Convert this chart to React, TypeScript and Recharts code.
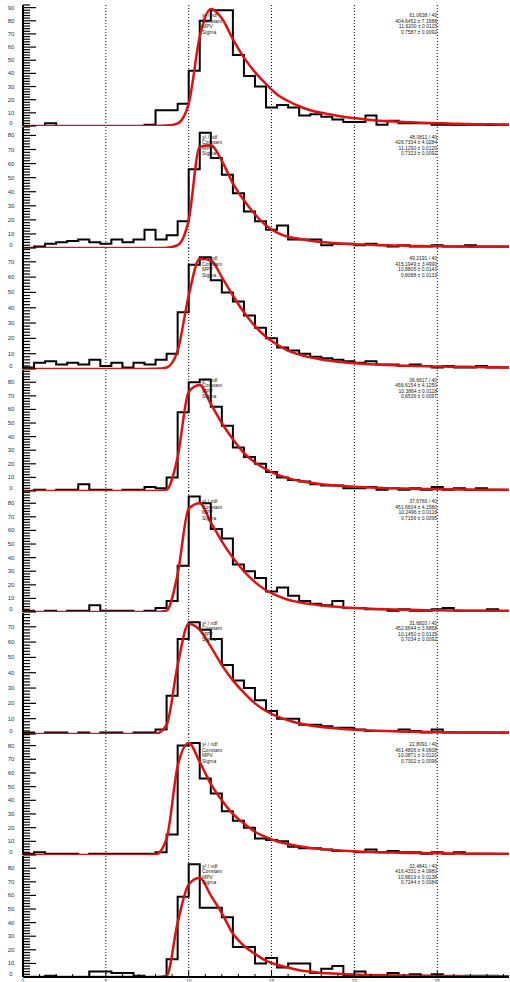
import React from "react";
import { ComposedChart, Line, XAxis, YAxis, ReferenceLine } from "recharts";

// bins of 2/3 unit, axis cut at 29.33
const binWidth = 2 / 3;
const xMax = 29.33;
const binEdges = Array.from({ length: 45 }, (_, i) => +(i * binWidth).toFixed(4));
const gridX = [5, 10, 15, 20, 25];
const xLabels = [0, 5, 10, 15, 20, 25];
const xTicks = Array.from({ length: 30 }, (_, i) => i);

const histP1 = [0, 0, 2, 0, 0, 0, 0, 0, 0, 0, 0, 1, 12, 12, 17, 42, 80, 88, 88, 54, 38, 30, 14, 16, 14, 8, 9, 7, 5, 3, 3, 8, 1, 4, 2, 2, 2, 1, 1, 0, 1, 1, 0, 1];
const fitP1 = [0, 0, 0, 0, 0, 0, 0, 0, 0, 0, 0, 0, 0, 0.3, 2, 17, 68, 89, 82, 66, 52, 41, 32, 24, 19, 15, 12, 10, 8.5, 7, 6, 5, 4.2, 3.7, 3.2, 2.8, 2.5, 2.2, 2, 1.8, 1.6, 1.4, 1.3, 1.2, 1.1];

const histP2 = [0, 1, 3, 4, 5, 6, 4, 3, 6, 4, 6, 13, 6, 9, 19, 56, 82, 64, 52, 39, 26, 19, 13, 16, 6, 6, 6, 2, 3, 3, 2, 3, 2, 1, 2, 1, 1, 2, 1, 1, 2, 1, 1, 1];
const fitP2 = [0, 0, 0, 0, 0, 0, 0, 0, 0, 0, 0, 0, 0, 0.2, 2, 20, 72, 73, 62, 46, 34, 24, 16, 11, 8, 6.5, 5.2, 4.2, 3.6, 3.1, 2.7, 2.4, 2.1, 1.9, 1.7, 1.5, 1.4, 1.3, 1.2, 1.1, 1, 0.9, 0.9, 0.8, 0.8];

const histP3 = [1, 4, 5, 3, 4, 3, 6, 2, 4, 1, 4, 3, 6, 10, 37, 68, 73, 58, 50, 44, 35, 27, 20, 14, 12, 10, 8, 7, 6, 5, 4, 5, 3, 3, 2, 3, 2, 1, 2, 1, 1, 2, 1, 1];
const fitP3 = [0, 0, 0, 0, 0, 0, 0, 0, 0, 0, 0, 0, 0.1, 1, 12, 48, 72, 71, 60, 48, 37, 28, 21, 16, 12, 9.5, 7.6, 6.2, 5.2, 4.4, 3.8, 3.3, 2.9, 2.6, 2.3, 2.1, 1.9, 1.7, 1.6, 1.5, 1.4, 1.3, 1.2, 1.1, 1];

const histP4 = [0, 1, 0, 1, 1, 5, 1, 1, 0, 1, 1, 3, 2, 10, 58, 80, 82, 62, 48, 32, 25, 20, 14, 10, 8, 7, 5, 4, 4, 2, 2, 3, 1, 2, 1, 2, 1, 3, 1, 2, 1, 2, 1, 1];
const fitP4 = [0, 0, 0, 0, 0, 0, 0, 0, 0, 0, 0, 0, 0, 1, 25, 73, 78, 64, 50, 38, 28, 21, 16, 12, 9.5, 7.5, 6, 5, 4.2, 3.6, 3.1, 2.7, 2.4, 2.1, 1.9, 1.7, 1.5, 1.4, 1.3, 1.2, 1.1, 1, 0.9, 0.9, 0.8];

const histP5 = [1, 0, 1, 0, 1, 1, 5, 1, 1, 1, 0, 1, 3, 8, 34, 85, 80, 61, 54, 35, 30, 25, 15, 18, 12, 8, 6, 5, 8, 3, 3, 2, 2, 1, 2, 1, 1, 2, 3, 1, 1, 1, 2, 1];
const fitP5 = [0, 0, 0, 0, 0, 0, 0, 0, 0, 0, 0, 0, 0, 1, 28, 76, 80, 66, 52, 40, 30, 22, 16, 12, 9, 7.2, 5.8, 4.8, 4, 3.4, 2.9, 2.5, 2.2, 2, 1.8, 1.6, 1.4, 1.3, 1.2, 1.1, 1, 0.9, 0.9, 0.8, 0.8];

const histP6 = [1, 0, 1, 1, 0, 1, 0, 1, 1, 0, 1, 1, 3, 25, 62, 73, 68, 62, 45, 35, 30, 22, 15, 10, 10, 6, 6, 5, 4, 4, 3, 2, 2, 2, 3, 2, 1, 3, 1, 1, 1, 1, 1, 1];
const fitP6 = [0, 0, 0, 0, 0, 0, 0, 0, 0, 0, 0, 0, 0.2, 6, 45, 72, 68, 57, 45, 35, 27, 20, 15, 11.5, 9, 7, 5.6, 4.6, 3.9, 3.3, 2.8, 2.4, 2.1, 1.9, 1.7, 1.5, 1.4, 1.3, 1.2, 1.1, 1, 0.9, 0.9, 0.8, 0.8];

const histP7 = [1, 2, 1, 1, 1, 0, 1, 1, 1, 1, 1, 1, 2, 15, 80, 82, 56, 45, 32, 25, 20, 12, 11, 10, 6, 5, 5, 4, 3, 3, 2, 4, 2, 3, 2, 2, 1, 2, 1, 2, 1, 1, 1, 1];
const fitP7 = [0, 0, 0, 0, 0, 0, 0, 0, 0, 0, 0, 0, 0.3, 12, 65, 82, 68, 52, 40, 30, 23, 17, 13, 10, 8, 6.4, 5.2, 4.3, 3.6, 3.1, 2.7, 2.3, 2.1, 1.9, 1.7, 1.5, 1.4, 1.3, 1.2, 1.1, 1, 0.9, 0.9, 0.8, 0.8];

const histP8 = [0, 0, 1, 0, 0, 0, 4, 4, 3, 3, 1, 0, 0, 13, 59, 83, 51, 51, 44, 22, 22, 10, 14, 7, 10, 10, 3, 6, 8, 1, 4, 0, 1, 3, 1, 2, 1, 2, 0, 0, 1, 1, 1, 0];
const fitP8 = [0, 0, 0, 0, 0, 0, 0, 0, 0, 0, 0, 0, 0, 1, 40, 68, 73, 60, 47, 32, 23, 17, 12, 9, 7, 5, 4, 3, 2.6, 2.2, 1.8, 1.5, 1.3, 1.2, 1.1, 1, 0.9, 0.8, 0.7, 0.7, 0.6, 0.6, 0.5, 0.5, 0.5];

const yMaxes = [92, 86, 79, 89, 89, 79, 88.5, 89];

const statNames = ["χ² / ndf", "Constant", "MPV", "Sigma"];
const statsP1 = ["61.0638 / 40", "404.6452 ± 7.1688", "11.6200 ± 0.0115", "0.7587 ± 0.0092"];
const statsP2 = ["48.0811 / 40", "426.7334 ± 4.0284", "11.1290 ± 0.0120", "0.7323 ± 0.0092"];
const statsP3 = ["49.2191 / 40", "415.1949 ± 3.4990", "10.8805 ± 0.0143", "0.8088 ± 0.0133"];
const statsP4 = ["36.6617 / 40", "456.6154 ± 4.1250", "10.3864 ± 0.0118", "0.6536 ± 0.0097"];
const statsP5 = ["37.6766 / 40", "451.6604 ± 4.1580", "10.2496 ± 0.0118", "0.7156 ± 0.0095"];
const statsP6 = ["31.6820 / 40", "452.6644 ± 3.6868", "10.1450 ± 0.0135", "0.7034 ± 0.0092"];
const statsP7 = ["22.8091 / 40", "461.4806 ± 4.0608", "10.0871 ± 0.0120", "0.7302 ± 0.0096"];
const statsP8 = ["32.4841 / 40", "416.4331 ± 4.0980", "10.8819 ± 0.0138", "0.7244 ± 0.0084"];

const panels = [
  { hist: histP1, fit: fitP1, stats: statsP1 },
  { hist: histP2, fit: fitP2, stats: statsP2 },
  { hist: histP3, fit: fitP3, stats: statsP3 },
  { hist: histP4, fit: fitP4, stats: statsP4 },
  { hist: histP5, fit: fitP5, stats: statsP5 },
  { hist: histP6, fit: fitP6, stats: statsP6 },
  { hist: histP7, fit: fitP7, stats: statsP7 },
  { hist: histP8, fit: fitP8, stats: statsP8 },
];

const FIRST_TOP = 5;
const STEP = 121.5;
const PLOT_H = 121;
const font = "'Liberation Sans', Arial, sans-serif";

const LeftTick = (p: any) => {
  const v = p.payload.value;
  const major = v % 10 === 0;
  return (
    <g>
      <line x1={p.x} y1={p.y} x2={p.x + (major ? 13 : 7)} y2={p.y} stroke="#000" strokeWidth={1.2} />
      {major ? (
        <text x={p.x - 12} y={v === 0 ? p.y - 1 : p.y + 2} textAnchor="middle" fontSize={6} fill="#333" fontFamily={font}>
          {v}
        </text>
      ) : null}
    </g>
  );
};

const RightTick = (p: any) => {
  const v = p.payload.value;
  if (v % 10 !== 0) return <g />;
  return <line x1={p.x} y1={p.y} x2={p.x - 4} y2={p.y} stroke="#000" strokeWidth={1.2} />;
};

const makeBottomTick = (withLabel: boolean) => (p: any) => {
  const v = p.payload.value;
  const major = v % 5 === 0;
  return (
    <g>
      <line x1={p.x} y1={p.y} x2={p.x} y2={p.y - (major ? 6 : 3)} stroke="#000" strokeWidth={1} />
      {withLabel && xLabels.includes(v) ? (
        <text x={p.x} y={p.y + 5.5} textAnchor="middle" fontSize={5} fill="#444" fontFamily={font}>
          {v}
        </text>
      ) : null}
    </g>
  );
};

const TopTick = (p: any) => {
  const v = p.payload.value;
  const major = v % 5 === 0;
  return <line x1={p.x} y1={p.y} x2={p.x} y2={p.y + (major ? 6 : 3)} stroke="#000" strokeWidth={1} />;
};

function Panel({ hist, fit, yMax, last }: { hist: number[]; fit: number[]; yMax: number; last: boolean }) {
  const rows = binEdges.map((x, i) => ({ x, hist: hist[Math.min(i, hist.length - 1)], fit: fit[i] }));
  const yTicks: number[] = [];
  for (let v = 0; v <= yMax; v += 2) yTicks.push(v);
  const axisLine = { stroke: "#000", strokeWidth: 2 };
  return (
    <ComposedChart
      width={510}
      height={PLOT_H + 2 + (last ? 6 : 0)}
      data={rows}
      margin={{ top: 1, right: 1, bottom: last ? 0 : 1, left: 0 }}
    >
      <XAxis
        xAxisId="b"
        dataKey="x"
        type="number"
        domain={[0, xMax]}
        ticks={xTicks}
        interval={0}
        allowDataOverflow
        height={last ? 7 : 0}
        tickSize={0}
        tickMargin={0}
        tickLine={false}
        axisLine={axisLine}
        tick={makeBottomTick(last)}
      />
      <XAxis
        xAxisId="t"
        orientation="top"
        dataKey="x"
        type="number"
        domain={[0, xMax]}
        ticks={xTicks}
        interval={0}
        allowDataOverflow
        height={0}
        tickSize={0}
        tickMargin={0}
        tickLine={false}
        axisLine={axisLine}
        tick={TopTick}
      />
      <YAxis
        yAxisId="l"
        type="number"
        domain={[0, yMax]}
        ticks={yTicks}
        interval={0}
        allowDataOverflow
        width={23}
        tickSize={0}
        tickMargin={0}
        tickLine={false}
        axisLine={axisLine}
        tick={LeftTick}
      />
      <YAxis
        yAxisId="r"
        orientation="right"
        type="number"
        domain={[0, yMax]}
        ticks={yTicks}
        interval={0}
        allowDataOverflow
        width={0}
        tickSize={0}
        tickMargin={0}
        tickLine={false}
        axisLine={axisLine}
        tick={RightTick}
      />
      {gridX.map((g) => (
        <ReferenceLine
          key={g}
          x={g}
          xAxisId="b"
          yAxisId="l"
          stroke="#000"
          strokeWidth={1}
          strokeDasharray="1 2"
        />
      ))}
      <Line
        xAxisId="b"
        yAxisId="l"
        type="stepAfter"
        dataKey="hist"
        stroke="#000"
        strokeWidth={2}
        dot={false}
        activeDot={false}
        isAnimationActive={false}
      />
      <Line
        xAxisId="b"
        yAxisId="l"
        type="monotone"
        dataKey="fit"
        stroke="#e01010"
        strokeWidth={2.5}
        dot={false}
        activeDot={false}
        isAnimationActive={false}
      />
    </ComposedChart>
  );
}

export default function App() {
  return (
    <div style={{ position: "absolute", left: 0, top: 0, width: 510, height: 982, background: "#fff", overflow: "hidden" }}>
      {panels.map((p, i) => (
        <div key={i} style={{ position: "absolute", left: 0, top: FIRST_TOP + i * STEP - 1 }}>
          <Panel hist={p.hist} fit={p.fit} yMax={yMaxes[i]} last={i === panels.length - 1} />
        </div>
      ))}
      <svg width={510} height={982} style={{ position: "absolute", left: 0, top: 0, pointerEvents: "none" }}>
        {panels.map((p, i) => {
          const top = FIRST_TOP + i * STEP;
          return (
            <g key={i} fontFamily={font} fontSize={5} fill="#222">
              {statNames.map((n, r) => (
                <text key={"n" + r} x={202} y={top + 12 + r * 5.5}>
                  {n}
                </text>
              ))}
              {p.stats.map((s, r) => (
                <text key={"v" + r} x={437} y={top + 12 + r * 5.5} textAnchor="end">
                  {s}
                </text>
              ))}
            </g>
          );
        })}
      </svg>
    </div>
  );
}
